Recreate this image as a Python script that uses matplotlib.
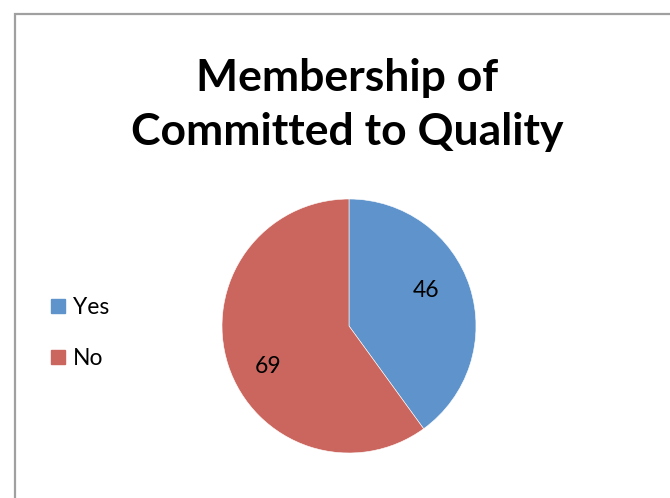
import matplotlib
matplotlib.use('Agg')
import matplotlib.pyplot as plt
import matplotlib.patches as mp
from matplotlib.lines import Line2D

answers = ['Yes', 'No']
counts = [46, 69]
colours = ['#5E94CB', '#CB665E']

plt.rcParams['font.family'] = ['Lato', 'DejaVu Sans']

W, H = 670, 498
fig = plt.figure(figsize=(W / 100, H / 100), dpi=100)

# chart area border, runs off the right and bottom edges
fig.add_artist(mp.Rectangle((15 / W, -0.1), 1.2, 1.1 - 14 / H, transform=fig.transFigure,
                            fill=False, edgecolor='#A0A0A0', linewidth=1.6))

fig.text(347 / W, 1 - 78 / H, 'Membership of', ha='center', va='center',
         fontsize=32, fontweight='bold')
fig.text(347 / W, 1 - 132 / H, 'Committed to Quality', ha='center', va='center',
         fontsize=32, fontweight='bold')

# pie axes sized to the pie itself
cx, cy, r = 349, 326, 127
ax = fig.add_axes([(cx - r) / W, 1 - (cy + r) / H, 2 * r / W, 2 * r / H])
wedges, _, autotexts = ax.pie(counts, colors=colours, startangle=90, counterclock=False,
                              radius=1, pctdistance=0.7,
                              autopct=lambda p: '%d' % round(p * sum(counts) / 100),
                              wedgeprops=dict(edgecolor='white', linewidth=0.4))
# data label spots inside each slice
for t, pos in zip(autotexts, [(0.61, 0.28), (-0.64, -0.32)]):
    t.set_fontsize(16.5)
    t.set_position(pos)
ax.set_xlim(-1, 1)
ax.set_ylim(-1, 1)
ax.set_aspect('auto')

handles = [Line2D([], [], marker='s', linestyle='none', markersize=10.5,
                  markerfacecolor=c, markeredgecolor=c) for c in colours]
fig.legend(handles, answers, loc='center left', bbox_to_anchor=(35 / W, 1 - 333 / H),
           frameon=False, fontsize=16.5, handletextpad=0.15, labelspacing=1.35,
           handlelength=1.0, borderpad=0)

fig.savefig('out.png', dpi=100)
